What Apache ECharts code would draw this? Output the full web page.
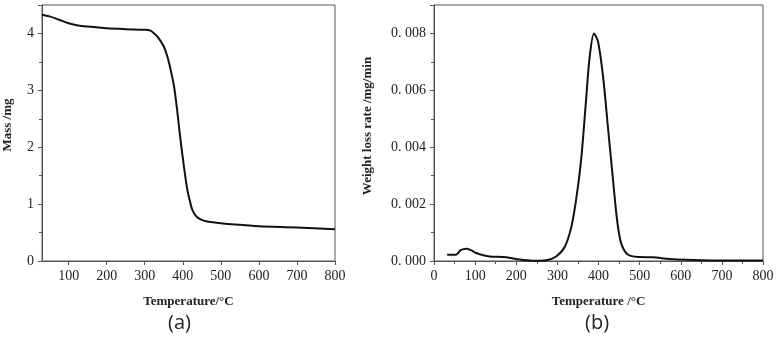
<!DOCTYPE html>
<html>
<head>
<meta charset="utf-8">
<script src="https://cdn.jsdelivr.net/npm/echarts@6/dist/echarts.min.js"></script>
<style>
html, body { margin: 0; padding: 0; background: #fff; }
#main { width: 779px; height: 348px; }
</style>
</head>
<body>
<div id="main"></div>
<script>
// (a) TG curve: temperature (°C) vs mass (mg)
var tgTemp = [30, 50, 75, 100, 125, 150, 200, 250, 300, 315, 325, 335, 350, 360, 368, 377, 385, 394, 403, 412, 420, 425, 435, 447, 460, 494, 538, 600, 700, 800];
var tgMass = [4.33, 4.30, 4.24, 4.18, 4.14, 4.12, 4.09, 4.075, 4.065, 4.05, 4.0, 3.93, 3.77, 3.58, 3.36, 3.07, 2.66, 2.13, 1.66, 1.25, 1.02, 0.9, 0.79, 0.73, 0.70, 0.67, 0.64, 0.61, 0.59, 0.56];
var tgTicks = [100, 200, 300, 400, 500, 600, 700, 800];

// (b) DTG curve: temperature (°C) vs weight loss rate (mg/min)
var dtgTemp = [32, 53, 65, 79, 90, 103, 120, 135, 176, 208, 240, 273, 297, 318, 334, 346, 358, 370, 378, 389, 399, 411, 423, 435, 445, 455, 472, 500, 532, 573, 614, 678, 800];
var dtgRate = [0.00022, 0.00022, 0.00038, 0.00043, 0.00038, 0.00028, 0.0002, 0.00016, 0.00013, 0.00005, 0.00001, 0.00003, 0.00016, 0.0005, 0.0012, 0.0022, 0.0036, 0.0057, 0.0071, 0.0080, 0.0077, 0.0065, 0.0047, 0.0029, 0.00146, 0.00063, 0.00022, 0.00014, 0.00013, 0.00007, 0.00004, 0.00002, 0.00002];

function pairs(xs, ys) {
    return xs.map(function (x, i) { return [x, ys[i]]; });
}

var axisColor = '#555';
var tickFont = { fontFamily: 'Liberation Serif', fontSize: 14, color: '#222' };
var nameFont = { fontFamily: 'Liberation Serif', fontSize: 13, fontWeight: 'bold', color: '#222' };

var option = {
    animation: false,
    backgroundColor: '#fff',
    grid: [
        { left: 41, right: 444, top: 5, bottom: 87, show: true, borderColor: axisColor, borderWidth: 1 },
        { left: 434, right: 16, top: 5, bottom: 87, show: true, borderColor: axisColor, borderWidth: 1 }
    ],
    xAxis: [{
        gridIndex: 0,
        type: 'value',
        min: 30,
        max: 800,
        name: 'Temperature/°C',
        nameLocation: 'middle',
        nameGap: 34,
        nameTextStyle: nameFont,
        splitLine: { show: false },
        axisLine: { onZero: false, lineStyle: { color: axisColor } },
        axisTick: { length: 4, customValues: tgTicks, lineStyle: { color: axisColor } },
        axisLabel: Object.assign({ margin: 8, customValues: tgTicks }, tickFont)
    }, {
        gridIndex: 1,
        type: 'value',
        min: 0,
        max: 800,
        interval: 100,
        name: 'Temperature /°C',
        nameLocation: 'middle',
        nameGap: 34,
        nameTextStyle: nameFont,
        splitLine: { show: false },
        axisLine: { onZero: false, lineStyle: { color: axisColor } },
        axisTick: { length: 4, lineStyle: { color: axisColor } },
        minorTick: { show: true, splitNumber: 2, length: 3, lineStyle: { color: axisColor } },
        axisLabel: Object.assign({ margin: 8 }, tickFont)
    }],
    yAxis: [{
        gridIndex: 0,
        type: 'value',
        min: 0,
        max: 4.5,
        interval: 1,
        name: 'Mass /mg',
        nameLocation: 'middle',
        nameGap: 28,
        nameTextStyle: Object.assign({ padding: [0, 0, 0, 16] }, nameFont),
        splitLine: { show: false },
        axisLine: { show: true, lineStyle: { color: axisColor } },
        axisTick: { length: 4, lineStyle: { color: axisColor } },
        minorTick: { show: true, splitNumber: 2, length: 3, lineStyle: { color: axisColor } },
        axisLabel: Object.assign({ margin: 8, showMaxLabel: false }, tickFont)
    }, {
        gridIndex: 1,
        type: 'value',
        min: 0,
        max: 0.009,
        interval: 0.002,
        name: 'Weight loss rate /mg/min',
        nameLocation: 'middle',
        nameGap: 60,
        nameTextStyle: Object.assign({ padding: [0, 0, 0, 14] }, nameFont),
        splitLine: { show: false },
        axisLine: { show: true, lineStyle: { color: axisColor } },
        axisTick: { length: 4, lineStyle: { color: axisColor } },
        minorTick: { show: true, splitNumber: 2, length: 3, lineStyle: { color: axisColor } },
        axisLabel: Object.assign({
            margin: 8,
            showMaxLabel: false,
            formatter: function (v) { return v.toFixed(3).replace('.', '. '); }
        }, tickFont)
    }],
    series: [{
        type: 'line',
        xAxisIndex: 0,
        yAxisIndex: 0,
        data: pairs(tgTemp, tgMass),
        smooth: 0.3,
        showSymbol: false,
        lineStyle: { color: '#111', width: 2 }
    }, {
        type: 'line',
        xAxisIndex: 1,
        yAxisIndex: 1,
        data: pairs(dtgTemp, dtgRate),
        smooth: 0.3,
        showSymbol: false,
        lineStyle: { color: '#111', width: 2 }
    }],
    graphic: [
        { type: 'text', left: 168, top: 313, style: { text: '(a)', font: '20px "Open Sans"', fill: '#222' } },
        { type: 'text', left: 585, top: 313, style: { text: '(b)', font: '20px "Open Sans"', fill: '#222' } }
    ]
};

var chart = echarts.init(document.getElementById('main'));
chart.setOption(option);
</script>
</body>
</html>
